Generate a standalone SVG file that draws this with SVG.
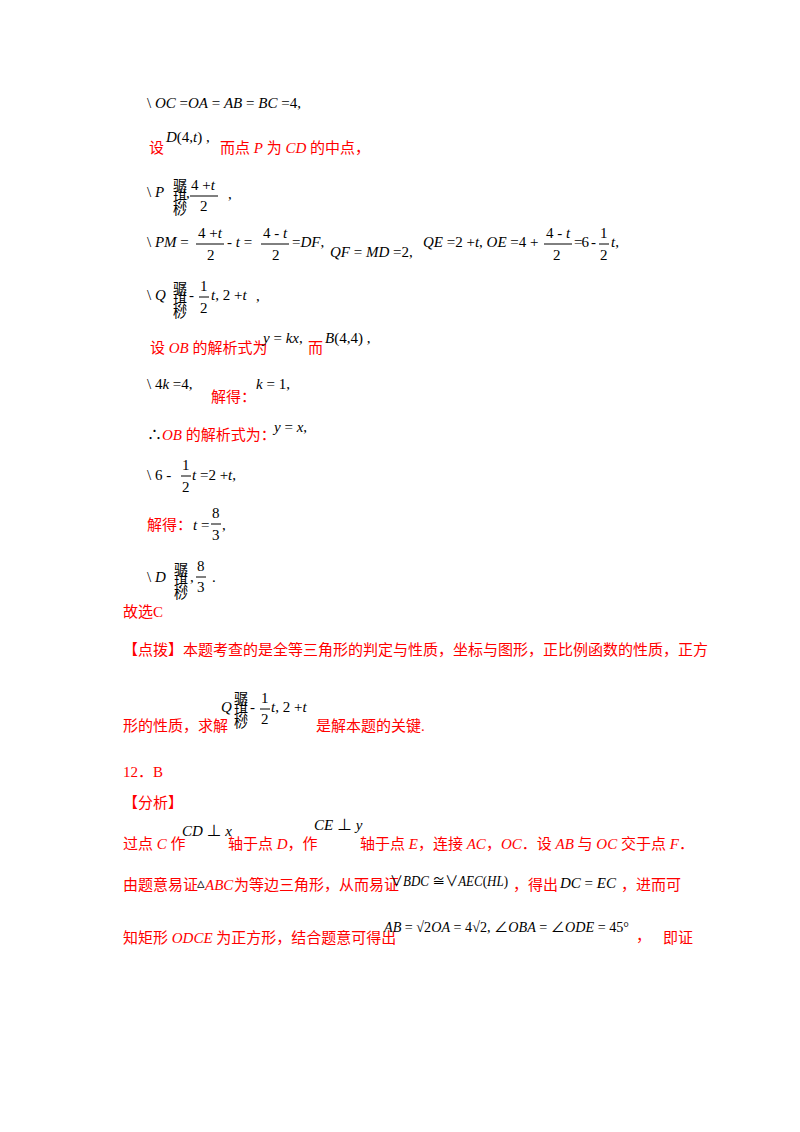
<svg xmlns="http://www.w3.org/2000/svg" width="800" height="1132" viewBox="0 0 800 1132">
<style>
text{font-family:"Liberation Serif","Noto Sans CJK SC",serif;font-size:15px;fill:#000}
.r{fill:#ff0000}
.i{font-style:italic}
.s{font-size:14px;font-family:"Noto Sans CJK SC",sans-serif}
.h{font-size:15px}
line{stroke:#000;stroke-width:1}
</style>
<rect width="800" height="1132" fill="#fff"/>
<text x="147" y="108">\ <tspan class="i">OC</tspan> =<tspan class="i">OA</tspan> = <tspan class="i">AB</tspan> = <tspan class="i">BC</tspan> =4,</text>
<text x="149" y="153" class="r">设</text>
<text x="166" y="142"><tspan class="i">D</tspan>(4,<tspan class="i">t</tspan>) ,</text>
<text x="220" y="153" class="r">而点 <tspan class="i">P</tspan> 为 <tspan class="i">CD</tspan> 的中点，</text>

<g id="p-line">
<text x="147" y="197">\ <tspan class="i">P</tspan></text>
<text x="173" y="190" class="s">骣</text><text x="173" y="202" class="s">琪</text><text x="173" y="214" class="s">桫</text>
<text x="186" y="198">,</text>
<text x="191" y="190">4 +<tspan class="i">t</tspan></text><line x1="190" y1="196" x2="218" y2="196"/><text x="200" y="211">2</text>
<text x="228" y="199">,</text>
</g>

<text x="147" y="247">\ <tspan class="i">PM</tspan> =</text>
<text x="198" y="238">4 +<tspan class="i">t</tspan></text><line x1="196" y1="244" x2="224" y2="244"/><text x="207" y="260">2</text>
<text x="227" y="247">- <tspan class="i">t</tspan> =</text>
<text x="263" y="238">4 - <tspan class="i">t</tspan></text><line x1="261" y1="244" x2="289" y2="244"/><text x="272" y="260">2</text>
<text x="292" y="247">=<tspan class="i">DF</tspan>,</text>
<text x="330" y="257"><tspan class="i">QF</tspan> = <tspan class="i">MD</tspan> =2,</text>
<text x="423" y="247"><tspan class="i">QE</tspan> =2 +<tspan class="i">t</tspan>, <tspan class="i">OE</tspan> =4 +</text>
<text x="546" y="238">4 - <tspan class="i">t</tspan></text><line x1="544" y1="244" x2="572" y2="244"/><text x="553" y="260">2</text>
<text x="574" y="247" textLength="22">=6 -</text>
<text x="600" y="238">1</text><line x1="599" y1="244" x2="609" y2="244"/><text x="600" y="260">2</text>
<text x="611" y="247" class="i">t<tspan font-style="normal">,</tspan></text>

<g id="q-line">
<text x="147" y="300">\ <tspan class="i">Q</tspan></text>
<text x="173" y="293" class="s">骣</text><text x="173" y="305" class="s">琪</text><text x="173" y="317" class="s">桫</text>
<text x="189" y="300">-</text>
<text x="200" y="291">1</text><line x1="199" y1="297" x2="209" y2="297"/><text x="200" y="313">2</text>
<text x="211" y="300"><tspan class="i">t</tspan>, 2 +<tspan class="i">t</tspan></text>
<text x="256" y="301">,</text>
</g>

<text x="150" y="353" class="r">设 <tspan class="i">OB</tspan> 的解析式为</text>
<text x="263" y="343"><tspan class="i">y</tspan> = <tspan class="i">kx</tspan>,</text>
<text x="308" y="353" class="r">而</text>
<text x="325" y="343"><tspan class="i">B</tspan>(4,4) ,</text>

<text x="147" y="389">\ 4<tspan class="i">k</tspan> =4,</text>
<text x="211" y="402" class="r">解得：</text>
<text x="256" y="389"><tspan class="i">k</tspan> = 1,</text>

<text x="147" y="440">∴<tspan class="r i">OB</tspan><tspan class="r"> 的解析式为：</tspan></text>
<text x="274" y="432"><tspan class="i">y</tspan> = <tspan class="i">x</tspan>,</text>

<text x="147" y="480">\ 6 -</text>
<text x="182" y="470">1</text><line x1="181" y1="476" x2="191" y2="476"/><text x="182" y="492">2</text>
<text x="192" y="480"><tspan class="i">t</tspan> =2 +<tspan class="i">t</tspan>,</text>

<text x="147" y="530" class="r">解得：</text>
<text x="193" y="530"><tspan class="i">t</tspan> =</text>
<text x="212" y="518">8</text><line x1="211" y1="524" x2="221" y2="524"/><text x="212" y="540">3</text>
<text x="222" y="530">,</text>

<g id="d-line">
<text x="147" y="582">\ <tspan class="i">D</tspan></text>
<text x="174" y="574" class="s">骣</text><text x="174" y="586" class="s">琪</text><text x="174" y="598" class="s">桫</text>
<text x="190" y="582">,</text>
<text x="197" y="571">8</text><line x1="196" y1="577" x2="206" y2="577"/><text x="197" y="592">3</text>
<text x="212" y="582">.</text>
</g>

<text x="123" y="617" class="r h">故选C</text>
<text x="123" y="655" class="r h">【点拨】本题考查的是全等三角形的判定与性质，坐标与图形，正比例函数的性质，正方</text>
<text x="123" y="731" class="r h">形的性质，求解</text>
<g id="q2">
<text x="221" y="712" class="i">Q</text>
<text x="234" y="703" class="s">骣</text><text x="234" y="715" class="s">琪</text><text x="234" y="727" class="s">桫</text>
<text x="250" y="712">-</text>
<text x="261" y="703">1</text><line x1="260" y1="709" x2="270" y2="709"/><text x="261" y="724">2</text>
<text x="271" y="712"><tspan class="i">t</tspan>, 2 +<tspan class="i">t</tspan></text>
</g>
<text x="316" y="731" class="r h">是解本题的关键.</text>

<text x="123" y="777" class="r h">12．B</text>
<text x="123" y="808" class="r h">【分析】</text>
<text x="123" y="849" class="r h">过点 <tspan class="i">C</tspan> 作</text>
<text x="182" y="836"><tspan class="i">CD</tspan> ⊥ <tspan class="i">x</tspan></text>
<text x="228" y="849" class="r h">轴于点 <tspan class="i">D</tspan>，作</text>
<text x="314" y="830"><tspan class="i">CE</tspan> ⊥ <tspan class="i">y</tspan></text>
<text x="360" y="849" class="r h">轴于点 <tspan class="i">E</tspan>，连接 <tspan class="i">AC</tspan>，<tspan class="i">OC</tspan>．设 <tspan class="i">AB</tspan> 与 <tspan class="i">OC</tspan> 交于点 <tspan class="i">F</tspan>．</text>
<text x="123" y="890" class="r h">由题意易证</text>
<text x="197" y="888" font-size="9">▵</text>
<text x="205" y="890" class="r h i">ABC</text>
<text x="234" y="890" class="r h">为等边三角形，从而易证</text>
<text x="390" y="886" font-size="14" textLength="118" lengthAdjust="spacingAndGlyphs"><tspan>∨</tspan><tspan class="i">BDC</tspan> ≅∨<tspan class="i">AEC</tspan>(<tspan class="i">HL</tspan>)</text>
<text x="513" y="890" class="r h">，得出</text>
<text x="560" y="888"><tspan class="i">DC</tspan> = <tspan class="i">EC</tspan></text>
<text x="621" y="890" class="r h">，进而可</text>
<text x="123" y="943" class="r h">知矩形 <tspan class="i">ODCE</tspan> 为正方形，结合题意可得出</text>
<text x="384" y="932" font-size="14" textLength="245" lengthAdjust="spacingAndGlyphs"><tspan class="i">AB</tspan> = √2<tspan class="i">OA</tspan> = 4√2,  ∠<tspan class="i">OBA</tspan> = ∠<tspan class="i">ODE</tspan> = 45°</text>
<text x="636" y="941" class="r h">，</text>
<text x="663" y="943" class="r h">即证</text>
</svg>
